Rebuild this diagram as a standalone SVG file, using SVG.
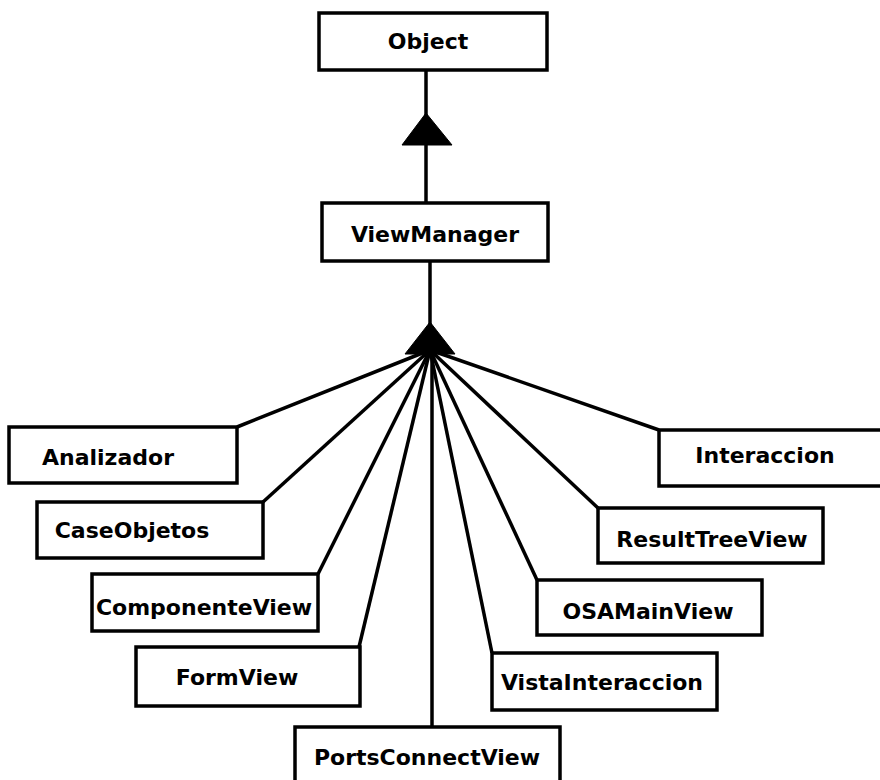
<svg xmlns="http://www.w3.org/2000/svg" width="880" height="780" viewBox="0 0 880 780">
  <style>
    .box { fill: #ffffff; stroke: #000000; stroke-width: 3.5; }
    .lbl { font-family: "DejaVu Sans", "Liberation Sans", sans-serif; font-weight: bold; font-size: 22px; fill: #000000; text-anchor: middle; }
    .edge { stroke: #000000; stroke-width: 3.5; fill: none; }
    .head { fill: #000000; stroke: #000000; stroke-width: 1; }
  </style>
  <rect width="880" height="780" fill="#ffffff"/>

  <!-- inheritance connectors -->
  <g id="connectors">
    <line class="edge" x1="426" y1="70" x2="426" y2="203"/>
    <polygon class="head" points="426,113 452,145 402,145"/>

    <line class="edge" x1="430" y1="261" x2="430" y2="330"/>
    <line class="edge" x1="430" y1="350" x2="237" y2="427"/>
    <line class="edge" x1="430" y1="350" x2="263" y2="502"/>
    <line class="edge" x1="430" y1="350" x2="318" y2="574"/>
    <line class="edge" x1="430" y1="350" x2="359" y2="647"/>
    <line class="edge" x1="432" y1="350" x2="432" y2="727"/>
    <line class="edge" x1="430" y1="350" x2="492" y2="653"/>
    <line class="edge" x1="430" y1="350" x2="537" y2="580"/>
    <line class="edge" x1="430" y1="350" x2="598" y2="508"/>
    <line class="edge" x1="430" y1="350" x2="659" y2="430"/>
    <polygon class="head" points="430,322 455,354 405,354"/>
  </g>

  <g id="object">
    <rect class="box" x="319" y="13" width="228" height="57"/>
    <text class="lbl" x="428" y="49">Object</text>
  </g>

  <g id="viewmanager">
    <rect class="box" x="322" y="203" width="226" height="58"/>
    <text class="lbl" x="435" y="242">ViewManager</text>
  </g>

  <g id="analizador">
    <rect class="box" x="9" y="427" width="228" height="56"/>
    <text class="lbl" x="108" y="465">Analizador</text>
  </g>

  <g id="caseobjetos">
    <rect class="box" x="37" y="502" width="226" height="56"/>
    <text class="lbl" x="132" y="538">CaseObjetos</text>
  </g>

  <g id="componenteview">
    <rect class="box" x="92" y="574" width="226" height="57"/>
    <text class="lbl" x="204" y="615">ComponenteView</text>
  </g>

  <g id="formview">
    <rect class="box" x="136" y="647" width="224" height="59"/>
    <text class="lbl" x="237" y="685">FormView</text>
  </g>

  <g id="portsconnectview">
    <rect class="box" x="295" y="727" width="265" height="60"/>
    <text class="lbl" x="427" y="765">PortsConnectView</text>
  </g>

  <g id="vistainteraccion">
    <rect class="box" x="492" y="653" width="225" height="57"/>
    <text class="lbl" x="602" y="690">VistaInteraccion</text>
  </g>

  <g id="osamainview">
    <rect class="box" x="537" y="580" width="225" height="55"/>
    <text class="lbl" x="648" y="619">OSAMainView</text>
  </g>

  <g id="resulttreeview">
    <rect class="box" x="598" y="508" width="225" height="55"/>
    <text class="lbl" x="712" y="547">ResultTreeView</text>
  </g>

  <g id="interaccion">
    <rect class="box" x="659" y="430" width="230" height="56"/>
    <text class="lbl" x="765" y="463">Interaccion</text>
  </g>
</svg>
